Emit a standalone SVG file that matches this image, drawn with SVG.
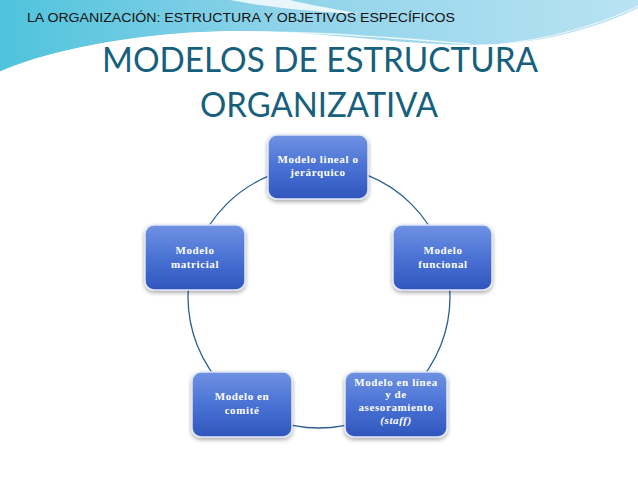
<svg xmlns="http://www.w3.org/2000/svg" width="638" height="479" viewBox="0 0 638 479">
<defs>
<linearGradient id="bgTop" x1="0" y1="0" x2="1" y2="0">
<stop offset="0" stop-color="#4fc3dc"/>
<stop offset="0.45" stop-color="#8fd3ea"/>
<stop offset="1" stop-color="#b9e3f2"/>
</linearGradient>
<linearGradient id="nodeFill" x1="0" y1="0" x2="0" y2="1">
<stop offset="0" stop-color="#6f92e2"/>
<stop offset="0.5" stop-color="#4a72d4"/>
<stop offset="1" stop-color="#2f56bd"/>
</linearGradient>
<filter id="sh" x="-20%" y="-20%" width="140%" height="150%">
<feGaussianBlur in="SourceAlpha" stdDeviation="2"/>
<feOffset dx="0" dy="2"/>
<feComponentTransfer><feFuncA type="linear" slope="0.35"/></feComponentTransfer>
<feMerge><feMergeNode/><feMergeNode in="SourceGraphic"/></feMerge>
</filter>
</defs>
<style>
.node rect{fill:url(#nodeFill);stroke:#dfe8f8;stroke-width:1.5;filter:url(#sh)}
.node text{font-family:"Liberation Serif","DejaVu Serif",serif;font-weight:bold;font-size:11px;fill:#ffffff;text-anchor:middle;letter-spacing:0.6px}
.conn{fill:none;stroke:#2c5f92;stroke-width:1.3}
.title{font-family:Lato,"Open Sans",sans-serif;font-size:35px;fill:#17607d;text-anchor:middle}
</style>
<rect width="638" height="479" fill="#ffffff"/>
<path d="M0,0 H638 V8 C610,22 560,40 500,44 C430,48 360,36 280,32 C190,28 120,38 60,52 C35,58 15,65 0,72 Z" fill="url(#bgTop)"/>
<path d="M0,72 C40,55 110,38 200,33 C290,29 380,37 470,44" fill="none" stroke="#ffffff" stroke-width="1.5" opacity="0.8"/>
<path d="M230,0 C270,8 320,12 360,14 C330,8 300,3 290,0 Z" fill="#ffffff" opacity="0.8"/>
<path d="M500,44 C560,38 610,20 638,6" fill="none" stroke="#ffffff" stroke-width="1" opacity="0.8"/>
<path d="M505,47 C565,42 612,25 638,12" fill="none" stroke="#ffffff" stroke-width="1" opacity="0.6"/>
<text x="27" y="22" font-family="Liberation Sans, Arial, sans-serif" font-size="12.5" fill="#111111" textLength="428" lengthAdjust="spacingAndGlyphs">LA ORGANIZACIÓN: ESTRUCTURA Y OBJETIVOS ESPECÍFICOS</text>
<text class="title" x="320" y="72" textLength="436" lengthAdjust="spacingAndGlyphs">MODELOS DE ESTRUCTURA</text>
<text class="title" x="319" y="117" textLength="238" lengthAdjust="spacingAndGlyphs">ORGANIZATIVA</text>
<g id="connectors">
<circle class="conn" cx="319" cy="297" r="131"/>
</g>
<g id="node-lineal" class="node">
<rect x="268" y="135" width="100" height="64" rx="9"/>
<text x="318" y="163">Modelo lineal o</text>
<text x="318" y="176">jerárquico</text>
</g>
<g id="node-funcional" class="node">
<rect x="393" y="225" width="99" height="65" rx="9"/>
<text x="443" y="254">Modelo</text>
<text x="443" y="268">funcional</text>
</g>
<g id="node-matricial" class="node">
<rect x="145" y="225" width="100" height="65" rx="9"/>
<text x="195" y="254">Modelo</text>
<text x="195" y="268">matricial</text>
</g>
<g id="node-comite" class="node">
<rect x="192" y="372" width="100" height="65" rx="9"/>
<text x="242" y="400">Modelo en</text>
<text x="242" y="414">comité</text>
</g>
<g id="node-staff" class="node">
<rect x="345" y="372" width="102" height="65" rx="9"/>
<text x="396" y="386">Modelo en línea</text>
<text x="396" y="398">y de</text>
<text x="396" y="411">asesoramiento</text>
<text x="396" y="424" font-style="italic">(staff)</text>
</g>
</svg>
